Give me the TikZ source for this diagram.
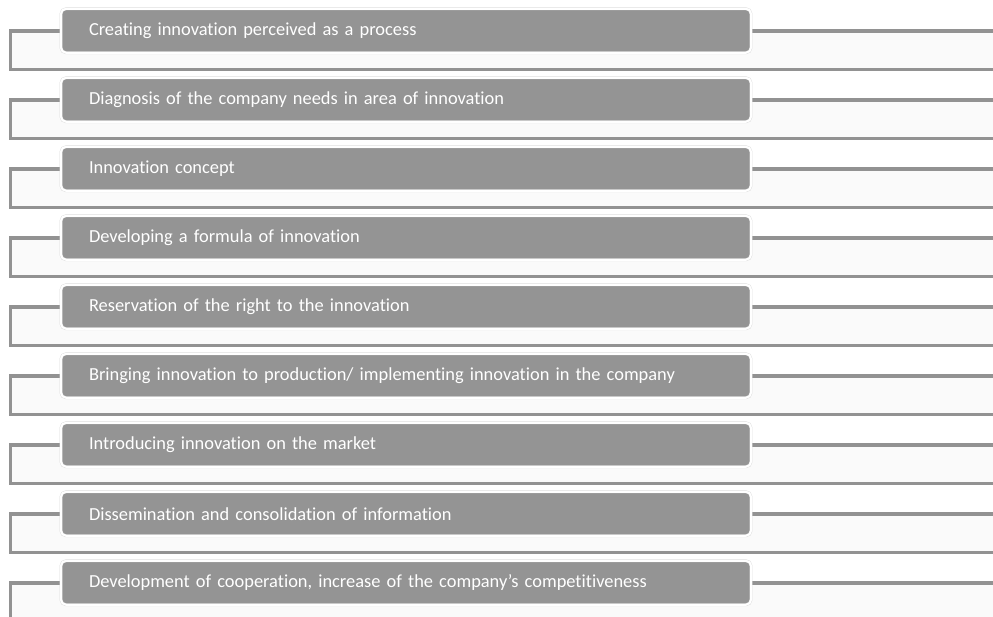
\documentclass[tikz,border=0pt]{standalone}
\usepackage{fontspec}
\setmainfont{Carlito}[Ligatures=NoCommon]
\usetikzlibrary{positioning, calc, backgrounds}

\definecolor{stagegray}{RGB}{148,148,148}
\definecolor{railgray}{RGB}{146,146,146}
\definecolor{bandgray}{RGB}{250,250,250}

\tikzset{
  stage/.style={rectangle, rounded corners=5pt, fill=stagegray, draw=black!14,
    double=white, double distance=2pt, line width=0.4pt, outer sep=0pt,
    minimum height=44pt, text width=634pt, inner xsep=28pt, inner ysep=0pt,
    align=left, text=white, font=\fontsize{18.4}{21}\selectfont},
  rail/.style={draw=railgray, line width=3.5pt},
  band/.style={fill=bandgray}
}

\begin{document}
\begin{tikzpicture}[x=1pt, y=-1pt]
    \useasboundingbox (0,0) rectangle (993,616);

    \node[stage, anchor=west] (s1) at (61,30.75) {Creating innovation perceived as a process};
    \node[stage, below=25pt of s1] (s2) {Diagnosis of the company needs in area of innovation};
    \node[stage, below=25pt of s2] (s3) {Innovation concept};
    \node[stage, below=25pt of s3] (s4) {Developing a formula of innovation};
    \node[stage, below=25pt of s4] (s5) {Reservation of the right to the innovation};
    \node[stage, below=25pt of s5] (s6) {Bringing innovation to production/ implementing innovation in the company};
    \node[stage, below=25pt of s6] (s7) {Introducing innovation on the market};
    \node[stage, below=25pt of s7] (s8) {Dissemination and consolidation of information};
    \node[stage, below=25pt of s8] (s9) {Development of cooperation, increase of the company’s competitiveness};

    % brackets behind every stage
    \begin{scope}[on background layer]
        \foreach \i in {1,...,9}{
            \path (s\i.west) ++(-50.5,0) coordinate (a\i) ++(0,38.5) coordinate (b\i);
            \coordinate (c\i) at (s\i.east -| 993,0);
            \fill[band] (a\i) rectangle (b\i -| c\i);
            \draw[rail] (s\i.west) -- (a\i) -- (b\i) -- (b\i -| c\i);
            \draw[rail] (s\i.east) -- (c\i);
        }
    \end{scope}
\end{tikzpicture}
\end{document}
